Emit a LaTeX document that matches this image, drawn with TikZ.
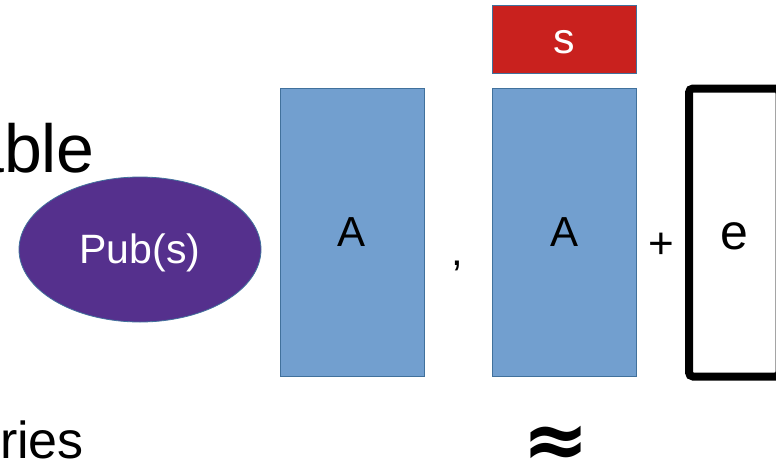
\documentclass[tikz,border=0pt]{standalone}
\usepackage{fontspec}
\setmainfont{Liberation Sans}
\newfontfamily\symfont{DejaVu Sans}
\usetikzlibrary{shapes.geometric}

\definecolor{boxblue}{HTML}{729FCF}
\definecolor{edgeblue}{HTML}{41719C}
\definecolor{pubpurple}{HTML}{55308D}
\definecolor{secretred}{HTML}{C9211E}

\newcommand{\px}[1]{\fontsize{#1}{#1}\selectfont}

% text inside a shape sits on a line box of ascent 0.905em and descent 0.212em
\tikzset{
  x=1pt, y=-1pt,
  linebox/.style={text height=0.905*#1pt, text depth=0.212*#1pt, inner sep=0pt,
    align=center, font=\px{#1}},
  matrixbox/.style={linebox=42, draw=edgeblue, line width=1pt, fill=boxblue,
    minimum width=144pt, minimum height=288pt},
  secretbox/.style={linebox=43, draw=edgeblue, line width=0.8pt, fill=secretred,
    text=white, minimum width=144pt, minimum height=68pt},
  pubnode/.style={linebox=41, ellipse, draw=edgeblue, line width=0.8pt, fill=pubpurple,
    text=white, minimum width=242pt, minimum height=145pt},
  errorbox/.style={linebox=50, draw=black, line width=8pt, rounded corners=4pt,
    minimum width=90.5pt, minimum height=288pt},
  glyph/.style={inner sep=0pt, anchor=base},
}

\begin{document}
\begin{tikzpicture}
\useasboundingbox (0,0) rectangle (776,463);
\clip (0,0) rectangle (776,463);
\fill[white] (0,0) rectangle (776,463);

% cut-off words at the left edge
\node[glyph, anchor=base east, font=\px{68}] (wordtop) at (95,172) {able};
\node[glyph, anchor=base east, font=\px{52}] (wordbottom) at (84,458) {ries};

% public key
\node[pubnode] (pub) at (140,249.5) {Pub(s)};

% the two copies of A, with the secret s on top of the second
\node[matrixbox] (A1) at (352,232) {A};
\node[glyph, font=\px{42}] (comma) at (457,265) {,};
\node[matrixbox] (A2) at (564,232) {A};
\node[secretbox] (s) at (564,39) {s};

% noise term
\node[glyph, font=\px{44}] (plus) at (661.5,258) {+};
\node[errorbox] (e) at (734.25,232.5) {e};

% approximation sign below
\node[glyph, font=\symfont\bfseries\px{80}] (approx) at (556,467) {≈};
\end{tikzpicture}
\end{document}
